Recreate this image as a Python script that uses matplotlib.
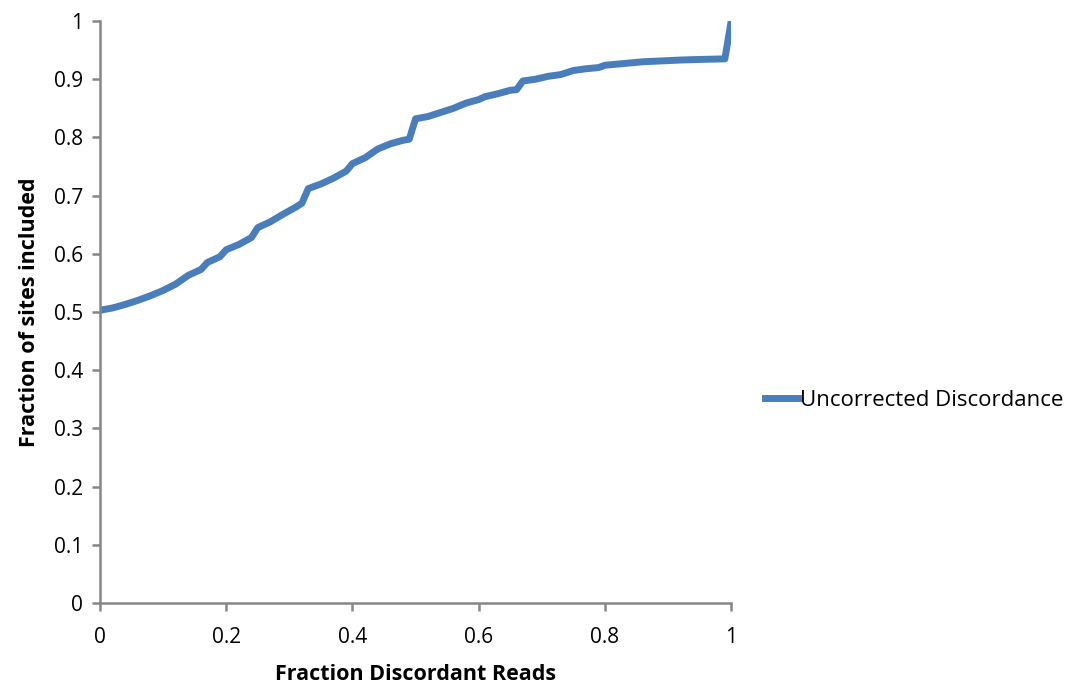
import matplotlib.pyplot as plt
from matplotlib.ticker import FuncFormatter

plt.rcParams['font.family'] = ['Open Sans', 'DejaVu Sans']

discordant = [0.00, 0.02, 0.04, 0.06, 0.08, 0.10, 0.12, 0.14, 0.16, 0.17,
              0.19, 0.20, 0.22, 0.24, 0.25, 0.27, 0.29, 0.31, 0.32, 0.33,
              0.35, 0.37, 0.39, 0.40, 0.42, 0.44, 0.46, 0.48, 0.49, 0.50,
              0.52, 0.54, 0.56, 0.58, 0.60, 0.61, 0.63, 0.65, 0.66, 0.67,
              0.69, 0.71, 0.73, 0.75, 0.77, 0.79, 0.80, 0.82, 0.84, 0.86,
              0.88, 0.90, 0.92, 0.95, 0.99, 0.995, 1.00]
included = [0.503, 0.507, 0.513, 0.520, 0.528, 0.537, 0.548, 0.563, 0.573, 0.585,
            0.595, 0.607, 0.616, 0.628, 0.645, 0.655, 0.668, 0.680, 0.687, 0.712,
            0.720, 0.730, 0.742, 0.755, 0.765, 0.780, 0.789, 0.795, 0.797, 0.832,
            0.836, 0.843, 0.850, 0.859, 0.865, 0.870, 0.875, 0.881, 0.882, 0.897,
            0.900, 0.905, 0.908, 0.915, 0.918, 0.920, 0.924, 0.926, 0.928, 0.930,
            0.931, 0.932, 0.933, 0.934, 0.935, 0.967, 1.000]

fig = plt.figure(figsize=(10.68, 6.85), dpi=100)
ax = fig.add_axes([0.0936, 0.1197, 0.591, 0.8496])

ax.plot(discordant, included, color='#4A7EBB', lw=5,
        solid_joinstyle='round', label='Uncorrected Discordance')

ax.set_xlim(0, 1)
ax.set_ylim(0, 1)
ax.set_xticks([0, 0.2, 0.4, 0.6, 0.8, 1])
ax.set_yticks([i / 10 for i in range(11)])
fmt = FuncFormatter(lambda v, p: ('%g' % round(v, 2)))
ax.xaxis.set_major_formatter(fmt)
ax.yaxis.set_major_formatter(fmt)

for s in ['top', 'right']:
    ax.spines[s].set_visible(False)
for s in ['left', 'bottom']:
    ax.spines[s].set_color('#868686')
    ax.spines[s].set_linewidth(1.8)
ax.tick_params(axis='both', colors='#868686', width=1.8, length=6,
               labelsize=15, labelcolor='black', direction='out')
ax.tick_params(axis='x', pad=11)
ax.tick_params(axis='y', pad=6)

ax.set_xlabel('Fraction Discordant Reads', fontsize=15.5, fontweight='bold', labelpad=12)
ax.set_ylabel('Fraction of sites included', fontsize=15.5, fontweight='bold', labelpad=10)

fig.legend(loc='center left', bbox_to_anchor=(0.698, 0.415), frameon=False,
           fontsize=16, handlelength=1.5, handletextpad=0.05)

fig.savefig('out.png', dpi=100)
